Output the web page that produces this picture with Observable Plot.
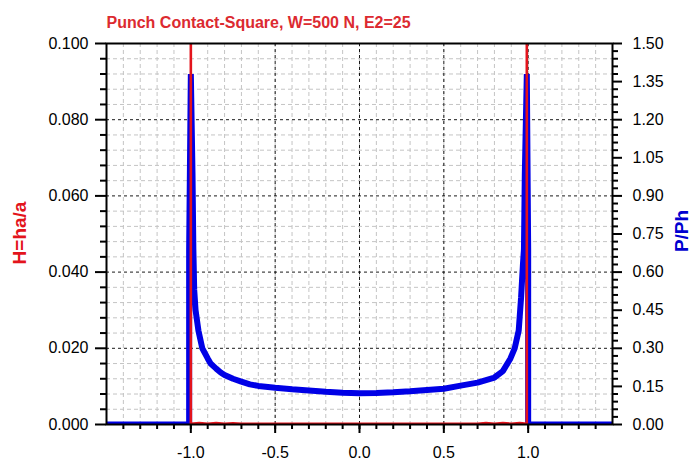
<!DOCTYPE html>
<html>
<head>
<meta charset="utf-8">
<script src="https://cdn.jsdelivr.net/npm/d3@7"></script>
<script src="https://cdn.jsdelivr.net/npm/@observablehq/plot@0.6"></script>
<style>
  html, body { margin: 0; padding: 0; background: #fff; }
</style>
</head>
<body>
<div id="chart"></div>
<script>
// ---- data ----
const title = "Punch Contact-Square, W=500 N, E2=25";
const leftLabel = "H=ha/a";
const rightLabel = "P/Ph";

// Blue series: P/Ph along x
const pX = [-1.5, -1.01, -1.01, -1.0, -0.99, -0.985, -0.98, -0.972, -0.955, -0.932, -0.9, -0.883, -0.85, -0.823, -0.8, -0.75, -0.705, -0.65, -0.6, -0.5, -0.4, -0.3, -0.2, -0.1, 0.0, 0.1, 0.2, 0.3, 0.4, 0.5, 0.6, 0.7, 0.8, 0.85, 0.895, 0.92, 0.944, 0.958, 0.969, 0.975, 0.98, 0.992, 1.0, 1.0, 1.5];
const pY = [0, 0, 0.69, 1.38, 0.98, 0.69, 0.53, 0.45, 0.37, 0.30, 0.26, 0.24, 0.22, 0.205, 0.195, 0.18, 0.17, 0.158, 0.152, 0.145, 0.139, 0.134, 0.129, 0.125, 0.123, 0.124, 0.127, 0.131, 0.136, 0.141, 0.153, 0.165, 0.185, 0.21, 0.26, 0.30, 0.37, 0.50, 0.63, 0.69, 0.98, 1.38, 0.69, 0, 0];

// Red series: H=ha/a along x (spikes at the punch edges exceed the axis top)
const hX = [-1.0, -1.0, -0.95, -0.9, -0.85, -0.8, -0.75, -0.7, -0.5, 0.0, 0.5, 0.7, 0.75, 0.8, 0.85, 0.9, 0.95, 0.992, 0.992];
const hY = [0.15, 0.0002, 0.0004, 0.0002, 0.0004, 0.0002, 0.0003, 0.0002, 0.0002, 0.0002, 0.0002, 0.0002, 0.0004, 0.0002, 0.0004, 0.0002, 0.0004, 0.0002, 0.15];

// Axis ticks
const xMajorTicks = [-1.0, -0.5, 0.0, 0.5, 1.0];
const xMinorTicks = [-1.4, -1.3, -1.2, -1.1, -1.0, -0.9, -0.8, -0.7, -0.6, -0.5, -0.4, -0.3, -0.2, -0.1, 0, 0.1, 0.2, 0.3, 0.4, 0.5, 0.6, 0.7, 0.8, 0.9, 1.0, 1.1, 1.2, 1.3, 1.4];
const hMajorTicks = [0, 0.02, 0.04, 0.06, 0.08, 0.10];
const hMinorTicks = [0.004, 0.008, 0.012, 0.016, 0.024, 0.028, 0.032, 0.036, 0.044, 0.048, 0.052, 0.056, 0.064, 0.068, 0.072, 0.076, 0.084, 0.088, 0.092, 0.096];
const pMajorTicks = [0, 0.15, 0.30, 0.45, 0.60, 0.75, 0.90, 1.05, 1.20, 1.35, 1.50];
const pMinorTicks = [0.03, 0.06, 0.09, 0.12, 0.18, 0.21, 0.24, 0.27, 0.33, 0.36, 0.39, 0.42, 0.48, 0.51, 0.54, 0.57, 0.63, 0.66, 0.69, 0.72, 0.78, 0.81, 0.84, 0.87, 0.93, 0.96, 0.99, 1.02, 1.08, 1.11, 1.14, 1.17, 1.23, 1.26, 1.29, 1.32, 1.38, 1.41, 1.44, 1.47];

// ---- build ----
const pRatio = 1.5 / 0.1; // right axis range / left axis range
const RED = "#e3141c";
const BLUE = "#0000e6";
const pData = pX.map((x, i) => ({x, p: pY[i]}));
const hData = hX.map((x, i) => ({x, h: hY[i]}));

const chart = Plot.plot({
  width: 695,
  height: 463,
  marginTop: 43,
  marginBottom: 39,
  marginLeft: 106,
  marginRight: 83,
  style: {fontFamily: "'Liberation Sans', Arial, sans-serif", fontSize: "16px", background: "#fff", color: "#000"},
  x: {domain: [-1.5, 1.5]},
  y: {domain: [0, 0.1]},
  marks: [
    // minor grid
    Plot.gridX(xMinorTicks, {stroke: "#c4c4c4", strokeOpacity: 1, strokeDasharray: "4,3", strokeWidth: 1}),
    Plot.gridY(hMinorTicks, {stroke: "#c4c4c4", strokeOpacity: 1, strokeDasharray: "4,3", strokeWidth: 1}),
    // major grid
    Plot.gridX(xMajorTicks, {stroke: "#000", strokeOpacity: 0.9, strokeDasharray: "3,3", strokeWidth: 1}),
    Plot.gridY(hMajorTicks, {stroke: "#000", strokeOpacity: 0.9, strokeDasharray: "3,3", strokeWidth: 1}),
    // blue P/Ph series (right axis)
    Plot.line(pData, {x: "x", y: d => d.p / pRatio, stroke: BLUE, strokeWidth: 6, strokeLinejoin: "bevel", strokeLinecap: "butt", clip: true}),
    // red H series (left axis)
    Plot.line(hData, {x: "x", y: "h", stroke: RED, strokeWidth: 2.6, strokeLinejoin: "miter", clip: true}),
    // frame
    Plot.frame({stroke: "#000", strokeWidth: 2}),
    // x axis
    Plot.axisX(xMinorTicks, {anchor: "bottom", tickSize: 5, strokeWidth: 2, tickFormat: () => "", label: null}),
    Plot.axisX(xMajorTicks, {anchor: "bottom", tickSize: 9, strokeWidth: 2, tickPadding: 13, tickFormat: d => d.toFixed(1), fontSize: 16, label: null}),
    // left axis
    Plot.axisY(hMinorTicks, {anchor: "left", tickSize: 6, strokeWidth: 2, tickFormat: () => "", label: null}),
    Plot.axisY(hMajorTicks, {anchor: "left", tickSize: 11, strokeWidth: 2, tickPadding: 7, tickFormat: d => d.toFixed(3), fontSize: 16, label: null}),
    // right axis (values in P/Ph, placed via the shared scale)
    Plot.axisY(pMinorTicks.map(v => v / pRatio), {anchor: "right", tickSize: 5, strokeWidth: 2, tickFormat: () => "", label: null}),
    Plot.axisY(pMajorTicks.map(v => v / pRatio), {anchor: "right", tickSize: 9, strokeWidth: 2, tickPadding: 11, tickFormat: d => (d * pRatio).toFixed(2), fontSize: 16, label: null}),
    // title and axis labels
    Plot.text([title], {frameAnchor: "top-left", dy: -27, textAnchor: "start", fill: "#dc2a30", fontWeight: "bold", fontSize: 16}),
    Plot.text([leftLabel], {frameAnchor: "left", dx: -87, dy: -1, rotate: -90, textAnchor: "middle", fill: RED, fontWeight: "bold", fontSize: 19}),
    Plot.text([rightLabel], {frameAnchor: "right", dx: 69, dy: -3, rotate: -90, textAnchor: "middle", fill: "#0000d0", fontWeight: "bold", fontSize: 19})
  ]
});
document.getElementById("chart").appendChild(chart);
</script>
</body>
</html>
